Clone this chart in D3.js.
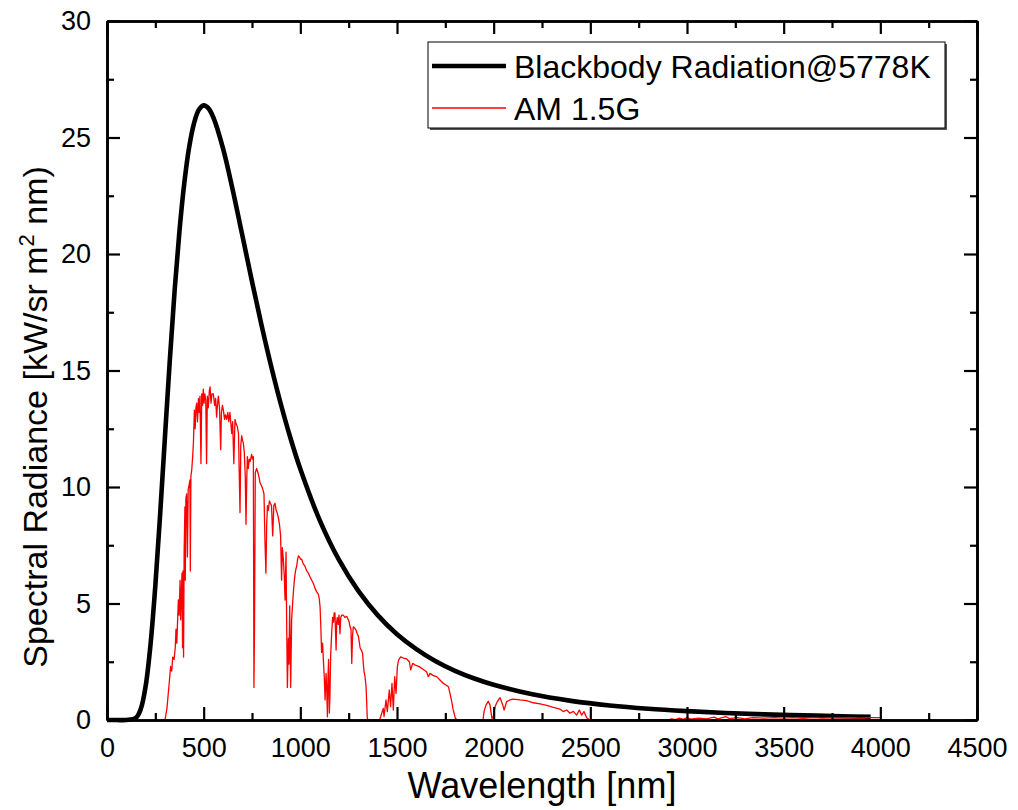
<!DOCTYPE html>
<html><head><meta charset="utf-8">
<script src="https://cdn.jsdelivr.net/npm/d3@7"></script>
<style>
body{margin:0;background:#fff;}
text{font-family:"Liberation Sans",Arial,sans-serif;fill:#000;}
</style></head>
<body>
<svg id="chart" width="1018" height="810"></svg>
<script>
// ---- data ----
const xTicks = [0,500,1000,1500,2000,2500,3000,3500,4000,4500];
const yTicks = [0,5,10,15,20,25,30];
const seriesNames = ["Blackbody Radiation@5778K","AM 1.5G"];

// Blackbody radiation at 5778 K (kW/sr m² nm)
const bbWl  = [0,50,100,150,175,200,225,250,275,300,325,350,375,400,425,450,475,500,525,550,600,650,700,750,800,850,900,950,1000,1100,1200,1300,1400,1500,1600,1700,1800,1900,2000,2200,2400,2600,2800,3000,3200,3400,3600,3800,3950];
const bbVal = [0,0,0.0002,0.097,0.48,1.46,3.23,5.76,8.85,12.18,15.46,18.46,21.01,23.06,24.59,25.61,26.19,26.38,26.25,25.86,24.53,22.76,20.80,18.82,16.92,15.15,13.53,12.07,10.77,8.58,6.87,5.54,4.50,3.68,3.04,2.52,2.11,1.78,1.51,1.10,0.82,0.62,0.48,0.38,0.30,0.24,0.20,0.16,0.14];

// AM 1.5G spectrum (scaled, same units)
const amWl = [280,300,310,317,322,329,335,340,347,353,357,361,364,369,373,378,381,385,388,391,393,396,399,403,405,408,412,416,420,425,429,431,434,438,443,447,452,456,460,464,468,473,477,481,486,490,494,498,502,506,511,515,519,524,529,533,538,543,550,557,562,567,572,576,582,588,592,597,602,608,613,619,625,630,636,641,645,650,656,662,668,674,680,688,692,697,701,705,710,715,719,723,726,731,736,741,748,753,757,760,763,767,774,781,787,791,797,802,806,812,817,822,826,830,835,840,845,851,857,863,869,875,880,886,892,898,903,907,912,917,921,926,929,933,938,941,945,950,955,960,965,969,975,981,986,990,996,1001,1007,1015,1024,1033,1042,1050,1059,1068,1076,1085,1093,1098,1102,1106,1110,1115,1119,1124,1128,1133,1137,1140,1143,1146,1150,1153,1157,1162,1167,1172,1175,1179,1182,1185,1188,1191,1196,1200,1205,1209,1214,1222,1231,1240,1248,1253,1257,1262,1266,1270,1274,1281,1288,1294,1300,1305,1309,1315,1322,1326,1329,1334,1340,1343,1346,1350,1410,1421,1429,1433,1443,1450,1460,1467,1474,1481,1488,1495,1502,1508,1519,1533,1550,1564,1571,1581,1598,1615,1636,1653,1662,1671,1688,1705,1722,1740,1753,1766,1778,1791,1802,1812,1945,1950,1960,1972,1981,1991,1998,2007,2019,2033,2047,2054,2067,2084,2102,2136,2170,2205,2240,2274,2309,2343,2360,2378,2395,2412,2429,2443,2455,2467,2481,2498,2900,2920,2940,2960,2980,3000,3020,3060,3100,3140,3160,3200,3220,3260,3300,3340,3400,3450,3500,3550,3600,3650,3700,3750,3800,3850,3900,3950,4000];
const amVal = [0,0,0.5,1.15,1.6,2.3,2.1,2.7,2.6,3.1,3.9,3.3,4.0,5.15,4.5,6.0,4.3,5.5,6.3,3.1,6.4,2.7,7.2,9.15,6.0,9.5,9.7,7.0,9.9,10.1,10.3,6.4,10.5,10.7,11.3,11.9,13.3,12.5,13.4,13.6,12.8,13.8,13.2,13.9,11.0,14.0,13.5,14.2,13.6,14.0,13.7,11.0,13.9,13.4,14.1,14.3,13.6,14.0,14.0,13.5,13.8,13.0,13.6,13.9,13.4,11.6,13.2,13.5,13.3,12.9,13.1,12.9,13.2,12.8,13.2,12.7,12.3,12.8,11.0,12.9,12.7,12.6,12.3,8.9,11.8,12.2,12.0,11.9,11.5,10.5,8.4,10.4,11.3,10.8,11.2,11.1,11.4,11.2,11.3,1.4,4.0,10.6,10.8,10.6,10.4,10.2,10.1,10.0,9.9,9.7,7.7,6.3,8.4,9.2,9.0,9.4,9.3,9.2,7.9,9.2,9.3,9.0,8.9,8.7,8.4,7.9,6.0,7.4,6.9,6.2,5.15,7.2,4.4,1.4,3.5,2.4,4.9,1.4,4.3,5.0,5.6,6.0,6.4,6.6,6.9,7.04,7.0,6.9,6.9,6.7,6.6,6.4,6.3,6.15,6.0,5.85,5.65,5.5,5.4,5.2,4.86,4.0,2.9,3.3,2.6,1.8,0.86,2.0,1.2,0.14,1.8,2.6,0.3,1.0,2.8,3.7,4.4,4.2,4.6,4.6,3.8,3.0,4.2,4.4,4.1,4.5,3.7,4.4,4.5,4.5,4.4,4.45,4.3,4.2,4.0,3.9,2.43,3.6,4.0,3.95,3.86,3.7,3.6,3.35,3.1,3.0,2.86,2.4,2.1,1.9,1.43,0.8,0.1,0,0,0.29,0.5,0.15,0.86,0.36,1.29,0.57,1.57,0.43,1.86,1.14,2.29,2.57,2.71,2.66,2.62,2.5,2.15,2.43,2.34,2.29,2.17,2.07,1.86,2.0,1.9,1.86,1.72,1.57,1.5,1.43,0.99,0.43,0.07,0,0,0.36,0.64,0.8,0.64,0.07,0.14,0.57,0.79,0.96,0.64,0.43,0.79,0.86,0.9,0.86,0.83,0.74,0.69,0.63,0.54,0.47,0.36,0.43,0.29,0.37,0.21,0.43,0.21,0.36,0.1,0,0,0.05,0.02,0.08,0.03,0.1,0.04,0.08,0.05,0.12,0.05,0.15,0.06,0.1,0.05,0.1,0.08,0.1,0.08,0.1,0.07,0.1,0.08,0.1,0.09,0.1,0.08,0.1,0.1];

// ---- layout ----
const L = 107, R = 977, T = 21, B = 720;
const svg = d3.select("#chart");
const x = d3.scaleLinear().domain([0,4500]).range([L,R]);
const y = d3.scaleLinear().domain([0,30]).range([B,T]);

const minorX = d3.range(250,4500,500);
const minorY = d3.range(2.5,30,5);

// curves
const bbData = bbWl.map((w,i)=>[w,bbVal[i]]);
const amData = amWl.map((w,i)=>[w,amVal[i]]);
svg.append("path").datum(bbData)
  .attr("d", d3.line().x(d=>x(d[0])).y(d=>y(d[1])).curve(d3.curveCatmullRom))
  .attr("fill","none").attr("stroke","#000").attr("stroke-width",4.6).attr("stroke-linejoin","round");
svg.append("path").datum(amData)
  .attr("d", d3.line().x(d=>x(d[0])).y(d=>y(d[1])))
  .attr("fill","none").attr("stroke","#ff0000").attr("stroke-width",1.3).attr("stroke-linejoin","round");

// axes
function styleAxis(g){
  g.selectAll("path.domain").attr("stroke","#000").attr("stroke-width",2.6);
  g.selectAll(".tick line").attr("stroke","#000").attr("stroke-width",2.2);
  g.selectAll("text").style("font-size","27px").style("font-family","'Liberation Sans',Arial,sans-serif").attr("fill","#000");
}
const gxMinor = svg.append("g").attr("transform",`translate(0,${B})`)
  .call(d3.axisBottom(x).tickValues(minorX).tickSize(-7).tickSizeOuter(0).tickFormat(""));
styleAxis(gxMinor);
const gx = svg.append("g").attr("transform",`translate(0,${B})`)
  .call(d3.axisBottom(x).tickValues(xTicks).tickSize(-13).tickSizeOuter(0).tickPadding(18).tickFormat(d3.format("d")));
styleAxis(gx);
const gxTopMinor = svg.append("g").attr("transform",`translate(0,${T})`)
  .call(d3.axisTop(x).tickValues(minorX).tickSize(-7).tickSizeOuter(0).tickFormat(""));
styleAxis(gxTopMinor);
const gxTop = svg.append("g").attr("transform",`translate(0,${T})`)
  .call(d3.axisTop(x).tickValues(xTicks).tickSize(-13).tickSizeOuter(0).tickFormat(""));
styleAxis(gxTop);

const gyMinor = svg.append("g").attr("transform",`translate(${L},0)`)
  .call(d3.axisLeft(y).tickValues(minorY).tickSize(-7).tickSizeOuter(0).tickFormat(""));
styleAxis(gyMinor);
const gy = svg.append("g").attr("transform",`translate(${L},0)`)
  .call(d3.axisLeft(y).tickValues(yTicks).tickSize(-13).tickSizeOuter(0).tickPadding(16).tickFormat(d3.format("d")));
styleAxis(gy);
const gyRMinor = svg.append("g").attr("transform",`translate(${R},0)`)
  .call(d3.axisRight(y).tickValues(minorY).tickSize(-7).tickSizeOuter(0).tickFormat(""));
styleAxis(gyRMinor);
const gyR = svg.append("g").attr("transform",`translate(${R},0)`)
  .call(d3.axisRight(y).tickValues(yTicks).tickSize(-13).tickSizeOuter(0).tickFormat(""));
styleAxis(gyR);

// axis titles
svg.append("text").attr("x",(L+R)/2).attr("y",798).attr("text-anchor","middle")
  .style("font-size","36px").text("Wavelength [nm]");
const yt = svg.append("text").attr("transform","translate(47,417) rotate(-90)").attr("text-anchor","middle")
  .style("font-size","34px");
yt.append("tspan").text("Spectral Radiance [kW/sr m");
yt.append("tspan").attr("dy",-13).style("font-size","22px").text("2");
yt.append("tspan").attr("dy",13).text(" nm)");

// legend
const lg = svg.append("g");
lg.append("rect").attr("x",430).attr("y",44).attr("width",517).attr("height",86).attr("fill","#555");
lg.append("rect").attr("x",428).attr("y",42).attr("width",517).attr("height",86).attr("fill","#fff").attr("stroke","#000").attr("stroke-width",1);
const legColors = ["#000","#ff0000"], legW=[4.6,1.3], legY=[66,108];
seriesNames.forEach((n,i)=>{
  lg.append("line").attr("x1",432).attr("x2",506).attr("y1",legY[i]).attr("y2",legY[i])
    .attr("stroke",legColors[i]).attr("stroke-width",legW[i]);
  lg.append("text").attr("x",514).attr("y",legY[i]+11.5).style("font-size","32px").text(n);
});
</script>
</body></html>
